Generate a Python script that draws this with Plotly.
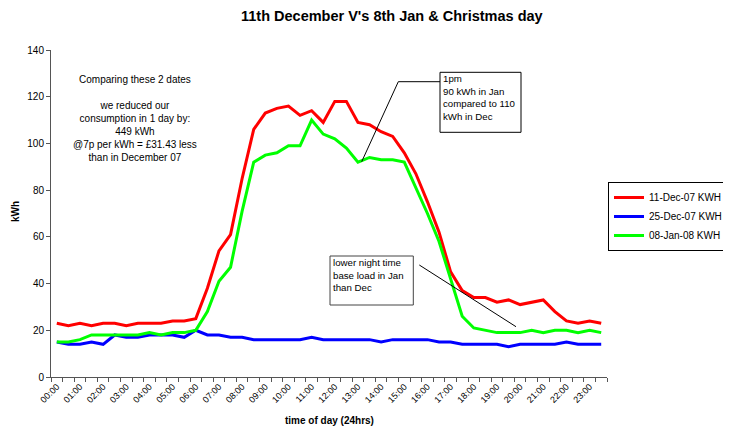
import plotly.graph_objects as go

times = [f"{h:02d}:{m:02d}" for h in range(24) for m in (0, 30)]
dec11 = [23, 22, 23, 22, 23, 23, 22, 23, 23, 23, 24, 24, 25, 38, 54, 61, 85, 106, 113, 115,
         116, 112, 114, 109, 118, 118, 109, 108, 105, 103, 96, 87, 75, 62, 45, 37, 34, 34, 32, 33,
         31, 32, 33, 28, 24, 23, 24, 23]
dec25 = [15, 14, 14, 15, 14, 18, 17, 17, 18, 18, 18, 17, 20, 18, 18, 17, 17, 16, 16, 16,
         16, 16, 17, 16, 16, 16, 16, 16, 15, 16, 16, 16, 16, 15, 15, 14, 14, 14, 14, 13,
         14, 14, 14, 14, 15, 14, 14, 14]
jan08 = [15, 15, 16, 18, 18, 18, 18, 18, 19, 18, 19, 19, 20, 28, 41, 47, 71, 92, 95, 96,
         99, 99, 110, 104, 102, 98, 92, 94, 93, 93, 92, 81, 70, 58, 42, 26, 21, 20, 19, 19,
         19, 20, 19, 20, 20, 19, 20, 19]
series_names = ["11-Dec-07 KWH", "25-Dec-07 KWH", "08-Jan-08 KWH"]
series_colors = ["#FF0000", "#0000FF", "#00FF00"]
y_ticks = [0, 20, 40, 60, 80, 100, 120, 140]

FONT = "Arial, Liberation Sans, sans-serif"
# page body has an 8px margin: figure is drawn at (8, 8) on screen
OFF = 8
SW, SH = 731, 427
W, H = SW - OFF, SH - OFF
# plot area in screen pixels
L, R, T, B = 51, 607, 50, 377


def px(x):
    return (x - L) / (R - L)


def py(y):
    return (B - y) / (B - T)


idx = list(range(len(times)))
fig = go.Figure()
for name, vals, col in zip(series_names, [dec11, dec25, jan08], series_colors):
    fig.add_trace(go.Scatter(x=idx, y=vals, mode="lines", name=name,
                             line=dict(color=col, width=3)))

axcol = "#555555"
fig.update_layout(
    width=W, height=H,
    margin=dict(l=L - OFF, r=SW - R, t=T - OFF, b=SH - B, autoexpand=False),
    paper_bgcolor="white", plot_bgcolor="white",
    font=dict(family=FONT, size=10, color="black"),
    showlegend=True,
    legend=dict(x=px(608), y=py(182), xanchor="left", yanchor="top",
                bordercolor="black", borderwidth=1, bgcolor="white",
                font=dict(family=FONT, size=10), itemwidth=30,
                tracegroupgap=0),
    xaxis=dict(range=[-0.5, len(times) - 0.5], tickmode="array",
               tickvals=idx[::2], ticktext=times[::2], tickangle=-45,
               ticks="", showline=True, linecolor=axcol, linewidth=1,
               showgrid=False, zeroline=False,
               tickfont=dict(family=FONT, size=9),
               minor=dict(tickmode="array", tickvals=[i - 0.5 for i in range(len(times) + 1)],
                          ticks="outside", ticklen=4, tickcolor=axcol, showgrid=False)),
    yaxis=dict(range=[0, 140], tickmode="array", tickvals=y_ticks,
               ticks="outside", ticklen=4, tickcolor=axcol,
               showline=True, linecolor=axcol, linewidth=1,
               showgrid=False, zeroline=False,
               tickfont=dict(family=FONT, size=10)),
)

ann = []
ann.append(dict(text="<b>11th December V's 8th Jan & Christmas day</b>", x=px(392), y=py(16),
                xref="paper", yref="paper", showarrow=False, font=dict(size=14.5),
                xanchor="center", yanchor="middle"))
ann.append(dict(text="<b>kWh</b>", x=px(15), y=py(212), xref="paper", yref="paper",
                showarrow=False, textangle=-90, font=dict(size=10),
                xanchor="center", yanchor="middle"))
ann.append(dict(text="<b>time of day (24hrs)</b>", x=px(329), y=py(420), xref="paper", yref="paper",
                showarrow=False, font=dict(size=10), xanchor="center", yanchor="middle"))
ann.append(dict(text="Comparing these 2 dates<br><br>we reduced our<br>consumption in 1 day by:<br>"
                     "449 kWh<br>@7p per kWh = £31.43 less<br>than in December 07",
                x=px(135), y=py(72), xref="paper", yref="paper", showarrow=False,
                align="center", xanchor="center", yanchor="top", font=dict(size=10)))
ann.append(dict(text="1pm<br>90 kWh in Jan<br>compared to 110<br>kWh in Dec",
                x=px(441), y=py(71), xref="paper", yref="paper", showarrow=False,
                align="left", xanchor="left", yanchor="top", font=dict(size=9.7)))
ann.append(dict(text="lower night time<br>base load in Jan<br>than Dec",
                x=px(330.5), y=py(255), xref="paper", yref="paper", showarrow=False,
                align="left", xanchor="left", yanchor="top", font=dict(size=9.7)))
fig.update_layout(annotations=ann)

shapes = []
shapes.append(dict(type="rect", xref="paper", yref="paper", x0=px(440), x1=px(521),
                   y0=py(72.3), y1=py(132.3), line=dict(color="black", width=1)))
shapes.append(dict(type="rect", xref="paper", yref="paper", x0=px(330), x1=px(413.3),
                   y0=py(256), y1=py(305), line=dict(color="#444444", width=1)))
shapes.append(dict(type="path", xref="paper", yref="paper",
                   path=f"M {px(361.7)},{py(161.7)} L {px(398.3)},{py(81.7)} L {px(440)},{py(81.7)}",
                   line=dict(color="black", width=1)))
shapes.append(dict(type="line", xref="paper", yref="paper", x0=px(419.3), y0=py(265),
                   x1=px(516), y1=py(326.7), line=dict(color="black", width=1)))
fig.update_layout(shapes=shapes)

fig.write_html("out.html")
